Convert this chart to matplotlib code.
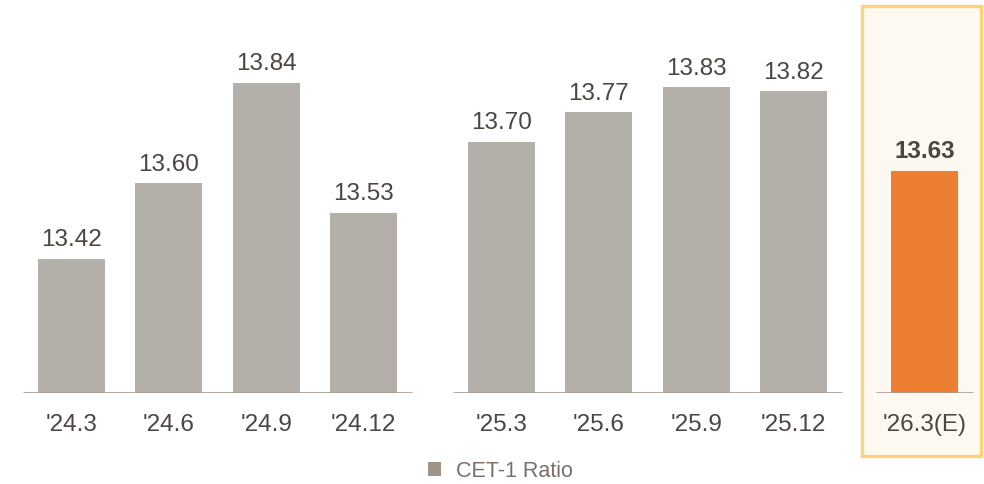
import matplotlib
matplotlib.use("Agg")
from matplotlib import pyplot as plt
from matplotlib.patches import Rectangle, Patch

periods = ["'24.3", "'24.6", "'24.9", "'24.12",
           "'25.3", "'25.6", "'25.9", "'25.12", "'26.3(E)"]
ratios = [13.42, 13.60, 13.84, 13.53, 13.70, 13.77, 13.83, 13.82, 13.63]
groups = [0, 0, 0, 0, 1, 1, 1, 1, 2]
estimate = [False] * 8 + [True]
series_name = "CET-1 Ratio"

plt.rcParams['font.family'] = ['Liberation Sans', 'DejaVu Sans']

grey = '#B4AFA9'
orange = '#ED7D31'
text_col = '#4D4540'
base_col = '#A89B91'
y0 = 13.10

group_shift = [0, 0.42, 0.77]
xs = [i + group_shift[g] for i, g in enumerate(groups)]
colors = [orange if e else grey for e in estimate]

fig = plt.figure(figsize=(9.84, 4.84), dpi=100)
ax = fig.add_axes([0, 91 / 484, 1, 393 / 484])
ax.patch.set_alpha(0)

# highlight box behind the estimate
box = Rectangle((862 / 984, 28 / 484), 119 / 984, 450 / 484, transform=fig.transFigure,
                facecolor='#FDF9F1', edgecolor='#FDD27B', linewidth=2.4, zorder=-5)
fig.add_artist(box)

bars = ax.bar(xs, [r - y0 for r in ratios], bottom=y0, width=0.69, color=colors,
              zorder=2, label=series_name)

for x, r, e in zip(xs, ratios, estimate):
    ax.annotate(f"{r:.2f}", (x, r), xytext=(0, 9), textcoords='offset points',
                ha='center', va='baseline', fontsize=17.5, color=text_col,
                fontweight='bold' if e else 'normal')

# baseline under each group
for g in sorted(set(groups)):
    gx = [x for x, gg in zip(xs, groups) if gg == g]
    ax.hlines(y0, min(gx) - 0.5, max(gx) + 0.5, color=base_col, linewidth=1.9, zorder=3)

ax.set_xlim(-71.5 / 97.3, (984 - 71.5) / 97.3)
ax.set_ylim(y0, y0 + 393 / 419)
ax.set_xticks(xs, periods)
ax.tick_params(axis='x', length=0, pad=15, labelsize=17.5, labelcolor=text_col)
ax.set_yticks([])
for s in ax.spines.values():
    s.set_visible(False)

handle = Patch(facecolor='#A09488', edgecolor='none')
fig.legend([handle], [series_name], loc='center', bbox_to_anchor=(0.509, 0.026),
           frameon=False, fontsize=15.5, labelcolor='#7A7068',
           handlelength=0.6, handleheight=0.6, handletextpad=0.7)

fig.savefig('out.png', dpi=100)
